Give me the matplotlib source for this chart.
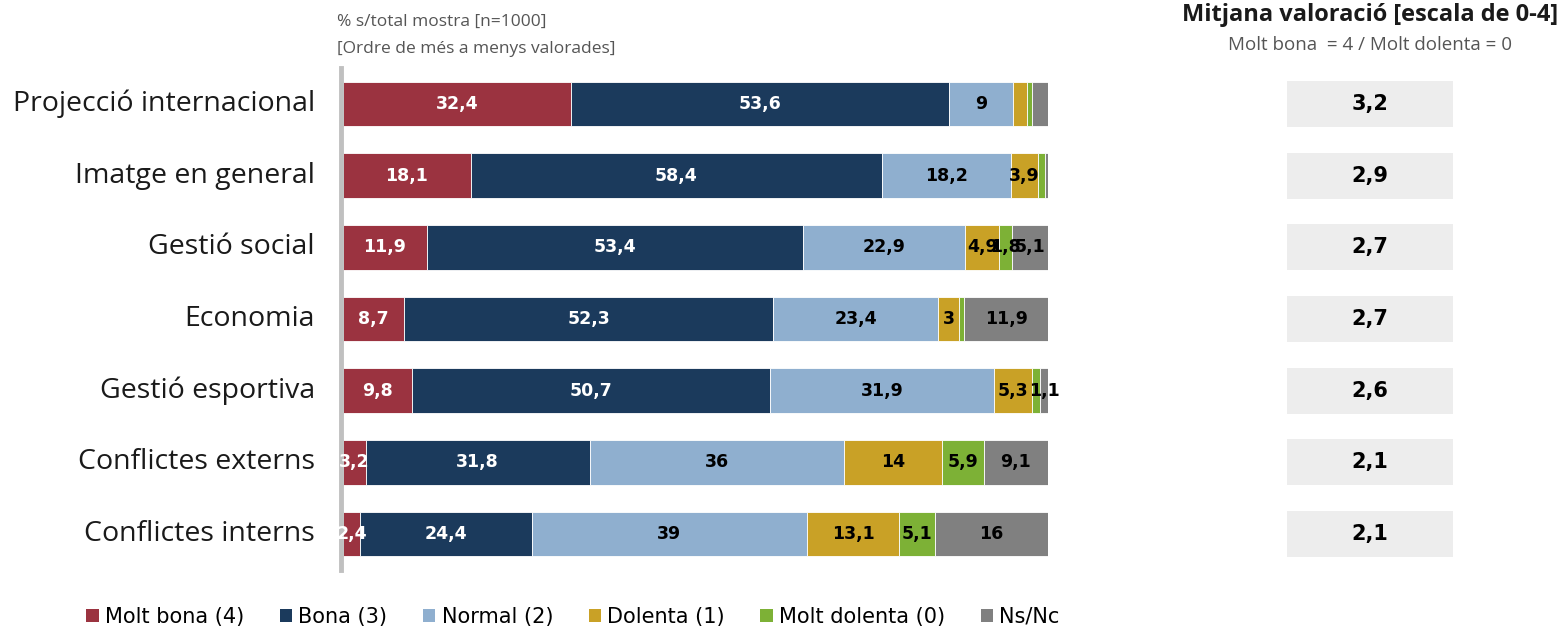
import numpy as np
import matplotlib
matplotlib.use("Agg")
import matplotlib.pyplot as plt
from matplotlib.patches import Patch

categories = ["Projecció internacional", "Imatge en general", "Gestió social", "Economia",
              "Gestió esportiva", "Conflictes externs", "Conflictes interns"]
series = ["Molt bona (4)", "Bona (3)", "Normal (2)", "Dolenta (1)", "Molt dolenta (0)", "Ns/Nc"]
molt_bona = [32.4, 18.1, 11.9, 8.7, 9.8, 3.2, 2.4]
bona = [53.6, 58.4, 53.4, 52.3, 50.7, 31.8, 24.4]
normal = [9.0, 18.2, 22.9, 23.4, 31.9, 36.0, 39.0]
dolenta = [2.0, 3.9, 4.9, 3.0, 5.3, 14.0, 13.1]
molt_dolenta = [0.7, 1.0, 1.8, 0.7, 1.2, 5.9, 5.1]
ns_nc = [2.3, 0.4, 5.1, 11.9, 1.1, 9.1, 16.0]
mitjana = [3.2, 2.9, 2.7, 2.7, 2.6, 2.1, 2.1]

colors = ["#9b3340", "#1b3a5c", "#8fafcf", "#c9a126", "#7db136", "#808080"]
txt_colors = ["white", "white", "black", "black", "black", "black"]

data = np.array([molt_bona, bona, normal, dolenta, molt_dolenta, ns_nc])
# etiquetes visibles: valors >= 3 i alguns petits
show = data >= 3
show[4, 2] = True
show[5, 4] = True
show[0, 5] = True
show[0, 6] = True

W, H = 1561, 628
fig = plt.figure(figsize=(W / 100, H / 100), dpi=100)
plt.rcParams["font.family"] = ["Open Sans", "DejaVu Sans"]

def px_axes(x0, y0, x1, y1):
    return fig.add_axes([x0 / W, 1 - y1 / H, (x1 - x0) / W, (y1 - y0) / H])

ax = px_axes(343, 68, 1048, 570)
y = np.arange(len(categories))
left = np.zeros(len(categories))
for i, s in enumerate(series):
    ax.barh(y, data[i], left=left, height=0.62, color=colors[i], edgecolor="white", linewidth=0.6)
    for j in range(len(categories)):
        if show[i, j]:
            lab = ("%g" % data[i, j]).replace(".", ",")
            ax.text(left[j] + data[i, j] / 2, y[j], lab, ha="center", va="center",
                    fontsize=12.5, fontweight="bold", color=txt_colors[i],
                    family="DejaVu Sans")
    left += data[i]
ax.set_xlim(0, 100)
ax.set_ylim(6.5, -0.5)
ax.axvline(-0.3, color="#c0c0c0", linewidth=3.5, clip_on=False)
ax.axis("off")
for j, c in enumerate(categories):
    ax.text(-0.0397, y[j], c, transform=ax.get_yaxis_transform(), ha="right", va="center",
            fontsize=20.5, color="#1a1a1a")

fig.text(337 / W, 1 - 22 / H, "% s/total mostra [n=1000]", ha="left", va="center",
         fontsize=12.5, color="#555555")
fig.text(337 / W, 1 - 49 / H, "[Ordre de més a menys valorades]", ha="left", va="center",
         fontsize=12.5, color="#555555")

ax2 = px_axes(1287, 68, 1453, 570)
ax2.barh(y, [1] * len(y), height=0.64, color="#ededed")
for j, v in enumerate(mitjana):
    ax2.text(0.5, y[j], ("%.1f" % v).replace(".", ","), ha="center", va="center",
             fontsize=15, fontweight="bold", color="black", family="DejaVu Sans")
ax2.set_xlim(0, 1)
ax2.set_ylim(6.5, -0.5)
ax2.axis("off")

fig.text(1370 / W, 1 - 15 / H, "Mitjana valoració [escala de 0-4]", ha="center", va="center",
         fontsize=17, fontweight="bold", color="#1a1a1a")
fig.text(1370 / W, 1 - 45 / H, "Molt bona  = 4 / Molt dolenta = 0", ha="center", va="center",
         fontsize=13.5, color="#555555")

handles = [Patch(facecolor=c, label=s) for c, s in zip(colors, series)]
fig.legend(handles=handles, loc="center", bbox_to_anchor=(573 / W, 1 - 617 / H), ncol=6,
           frameon=False, handlelength=0.6, handleheight=0.6,
           handletextpad=0.3, columnspacing=1.7,
           prop={"family": ["DejaVu Sans"], "size": 15})

fig.savefig("out.png", dpi=100)
